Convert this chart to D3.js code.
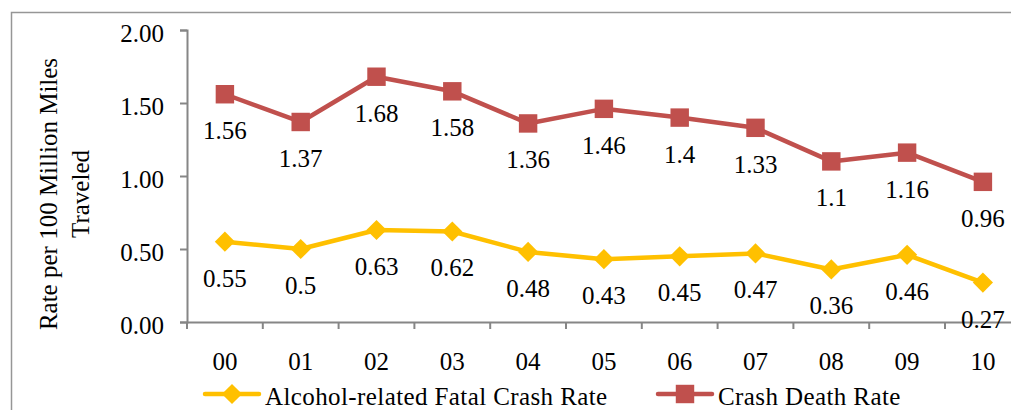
<!DOCTYPE html>
<html><head><meta charset="utf-8">
<script src="https://cdn.jsdelivr.net/npm/d3@7"></script>
<style>body{margin:0;background:#fff}svg{display:block}text{font-family:"Liberation Serif","Times New Roman",serif;fill:#000}</style>
</head><body><svg id="c" width="1011" height="410"></svg>
<script>
const categories = ["00","01","02","03","04","05","06","07","08","09","10"];
const alcoholRate = [0.55,0.5,0.63,0.62,0.48,0.43,0.45,0.47,0.36,0.46,0.27];
const deathRate = [1.56,1.37,1.68,1.58,1.36,1.46,1.4,1.33,1.1,1.16,0.96];
const yTicks = [0,0.5,1,1.5,2];
const seriesNames = ["Alcohol-related Fatal Crash Rate","Crash Death Rate"];
const colors = {alc:"#FFC000", death:"#C0504D"};

const svg = d3.select("#c");
const FS = 25;
// outer border
svg.append("rect").attr("x",11.5).attr("y",12.5).attr("width",1100).attr("height",500)
  .attr("fill","none").attr("stroke","#969696").attr("stroke-width",1.5);

const x = d3.scaleBand().domain(categories).range([187, 187+11*75.8]);
const y = d3.scaleLinear().domain([0,2]).range([322,30]);

// y axis
const ya = svg.append("g").attr("transform","translate(187,0)")
  .call(d3.axisLeft(y).tickValues(yTicks).tickFormat(d3.format(".2f")).tickSize(7).tickPadding(16));
ya.select(".domain").attr("stroke","#868686").attr("stroke-width",2);
ya.selectAll(".tick line").attr("stroke","#868686").attr("stroke-width",2);
ya.selectAll(".tick text").attr("font-size",FS).attr("dy","0.45em").style("font-family","'Liberation Serif',serif");

// x axis
const xa = svg.append("g").attr("transform","translate(0,322)")
  .call(d3.axisBottom(x).tickSize(0).tickPadding(30));
xa.select(".domain").attr("stroke","#868686").attr("stroke-width",2);
xa.selectAll(".tick line").remove();
xa.selectAll(".tick text").attr("font-size",FS).style("font-family","'Liberation Serif',serif");
// category boundary ticks
const bounds = categories.map(c=>x(c)).concat([x(categories[categories.length-1])+x.bandwidth()]);
xa.selectAll(".bt").data(bounds).join("line").attr("class","bt")
  .attr("x1",d=>d).attr("x2",d=>d).attr("y1",0).attr("y2",7)
  .attr("stroke","#868686").attr("stroke-width",2);

const cx = c => x(c)+x.bandwidth()/2;
const line = d3.line().x((d,i)=>cx(categories[i])).y(d=>y(d));

function series(vals,color,shape){
  svg.append("path").datum(vals).attr("d",line).attr("fill","none")
    .attr("stroke",color).attr("stroke-width",4.5).attr("stroke-linejoin","round");
  const sym = d3.symbol().type(shape==="square"?d3.symbolSquare:d3.symbolDiamond2).size(shape==="square"?340:260);
  svg.selectAll(null).data(vals).join("path")
    .attr("transform",(d,i)=>`translate(${cx(categories[i])},${y(d)})`)
    .attr("d",sym).attr("fill",color);
  svg.selectAll(null).data(vals).join("text")
    .attr("x",(d,i)=>cx(categories[i])).attr("y",d=>y(d)+45)
    .attr("text-anchor","middle").attr("font-size",FS).text(d=>String(d));
}
series(alcoholRate,colors.alc,"diamond");
series(deathRate,colors.death,"square");

// y axis title
const yt = svg.append("text").attr("transform","translate(57,194) rotate(-90)")
  .attr("text-anchor","middle").attr("font-size",FS);
yt.append("tspan").attr("x",0).attr("dy",0).text("Rate per 100 Million Miles");
yt.append("tspan").attr("x",0).attr("dy",32).text("Traveled");

// legend
const leg = [{name:seriesNames[0],color:colors.alc,shape:"diamond",x0:205},{name:seriesNames[1],color:colors.death,shape:"square",x0:658}];
leg.forEach(l=>{
  svg.append("line").attr("x1",l.x0).attr("x2",l.x0+54).attr("y1",394).attr("y2",394)
    .attr("stroke",l.color).attr("stroke-width",4.5).attr("stroke-linecap","round");
  svg.append("path").attr("transform",`translate(${l.x0+27},394)`)
    .attr("d",d3.symbol().type(l.shape==="square"?d3.symbolSquare:d3.symbolDiamond2).size(l.shape==="square"?340:260)())
    .attr("fill",l.color);
  svg.append("text").attr("x",l.x0+60).attr("y",405).attr("font-size",FS)
    .attr("letter-spacing",0.4).text(l.name);
});
</script></body></html>
